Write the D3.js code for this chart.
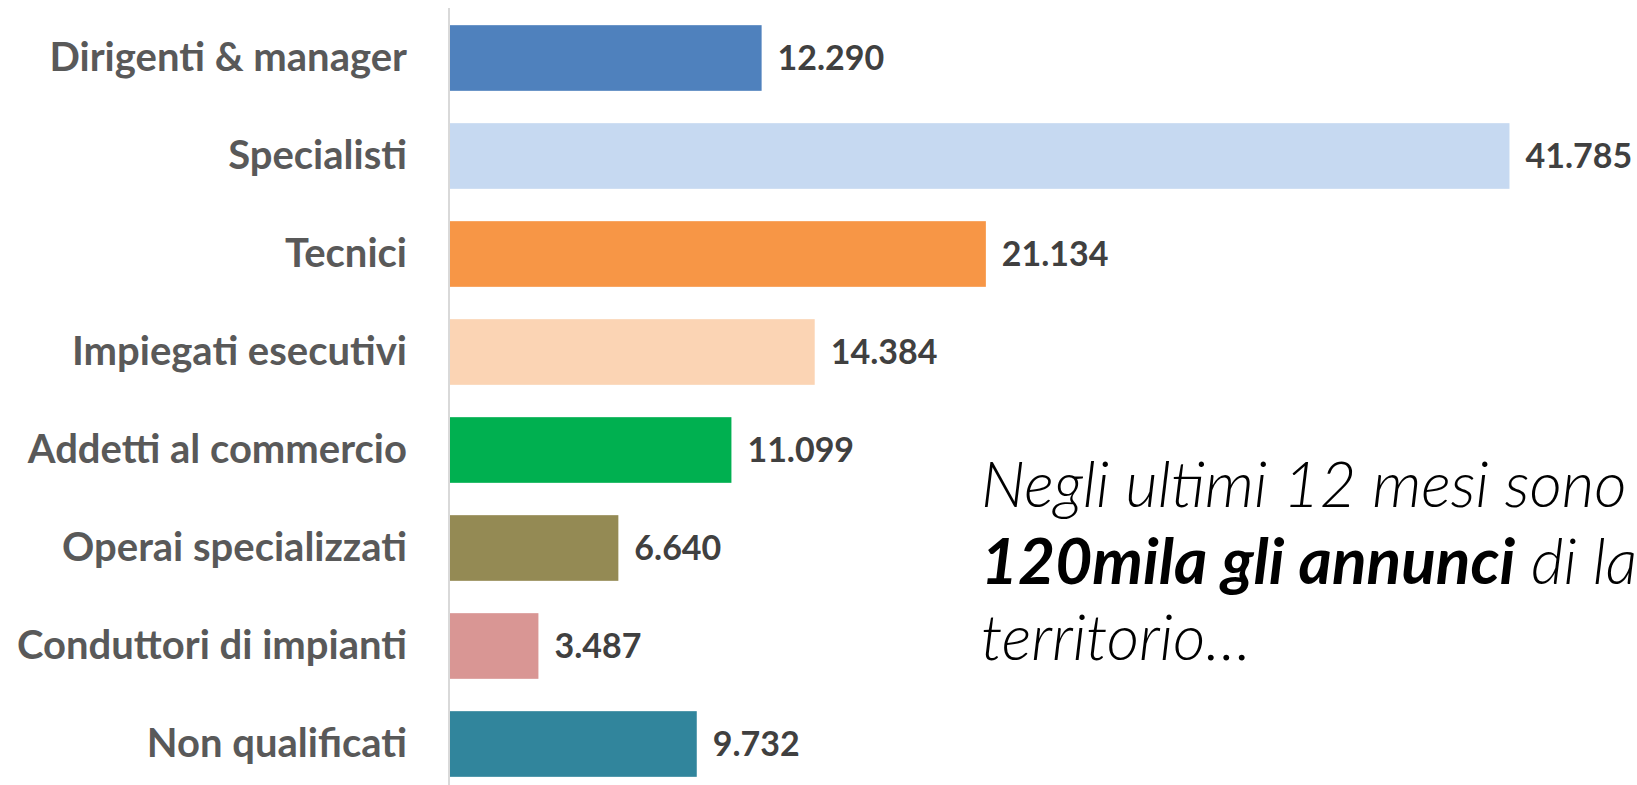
<html>
<head>
    <script src="https://cdnjs.cloudflare.com/ajax/libs/d3/7.8.5/d3.min.js"></script>
</head>
<style>
body {
    margin: 0;
    background-color: white;
}
#canvas {
    background-color: white;
}
</style>
<body>
    <svg id="canvas" width="1637" height="785"></svg>

    <script>
    // data
    var categories = ["Dirigenti & manager", "Specialisti", "Tecnici", "Impiegati esecutivi",
                      "Addetti al commercio", "Operai specializzati", "Conduttori di impianti", "Non qualificati"];
    var values = [12290, 41785, 21134, 14384, 11099, 6640, 3487, 9732];
    var barColors = ["#4F81BD", "#C6D9F1", "#F79646", "#FBD4B4", "#00B050", "#948A54", "#D99694", "#31859C"];
    var noteLines = [
        [{t: "Negli ultimi 12 mesi sono stati oltre", b: false}],
        [{t: "120mila gli annunci", b: true}, {t: " di lavoro sul", b: false}],
        [{t: "territorio\u2026", b: false}]
    ];

    var canvas = d3.select("#canvas");
    var it = d3.formatLocale({decimal: ",", thousands: ".", grouping: [3], currency: ["€", ""]});
    var fmt = it.format(",d");

    var x = d3.scaleLinear().domain([0, 45000]).range([450, 1591]);
    var y = d3.scaleBand().domain(categories).range([9, 793])
              .paddingInner(0.33).paddingOuter(0.165);

    // bars
    canvas.selectAll("rect.bar")
        .data(values)
        .enter().append("rect")
        .attr("class", "bar")
        .attr("x", x(0))
        .attr("y", (d, i) => y(categories[i]))
        .attr("width", d => x(d) - x(0))
        .attr("height", y.bandwidth())
        .style("fill", (d, i) => barColors[i]);

    // value labels
    canvas.selectAll("text.val")
        .data(values)
        .enter().append("text")
        .attr("class", "val")
        .attr("x", d => x(d) + 16)
        .attr("y", (d, i) => y(categories[i]) + y.bandwidth() / 2)
        .attr("dy", "0.36em")
        .style("font-family", "Lato, 'Open Sans', sans-serif")
        .style("font-weight", "bold")
        .style("font-size", "34px")
        .style("fill", "#404040")
        .text(d => fmt(d));

    // category axis
    var axis = canvas.append("g")
        .attr("transform", "translate(449,0)")
        .call(d3.axisLeft(y).tickSize(0).tickSizeOuter(0).tickPadding(42));
    axis.select(".domain")
        .attr("d", "M0,8V785")
        .style("stroke", "#d9d9d9")
        .style("stroke-width", 2);
    axis.selectAll(".tick text")
        .style("font-family", "Lato, 'Open Sans', sans-serif")
        .style("font-weight", "bold")
        .style("font-size", "40px")
        .style("fill", "#595959");

    // note
    var note = canvas.append("text")
        .attr("x", 981)
        .attr("y", 507)
        .style("font-family", "Lato, 'Open Sans', sans-serif")
        .style("font-style", "italic")
        .style("font-weight", 300)
        .style("font-size", "63px")
        .style("fill", "#000");
    noteLines.forEach((line, li) => {
        line.forEach((part, pi) => {
            var ts = note.append("tspan")
                .style("white-space", "pre")
                .style("font-weight", part.b ? "bold" : 300)
                .style("font-size", part.b ? "64px" : "63px")
                .text(part.t);
            if (pi == 0) {
                ts.attr("x", 981).attr("dy", li == 0 ? 0 : 76.5);
            }
        });
    });
    </script>
</body>
</html>
